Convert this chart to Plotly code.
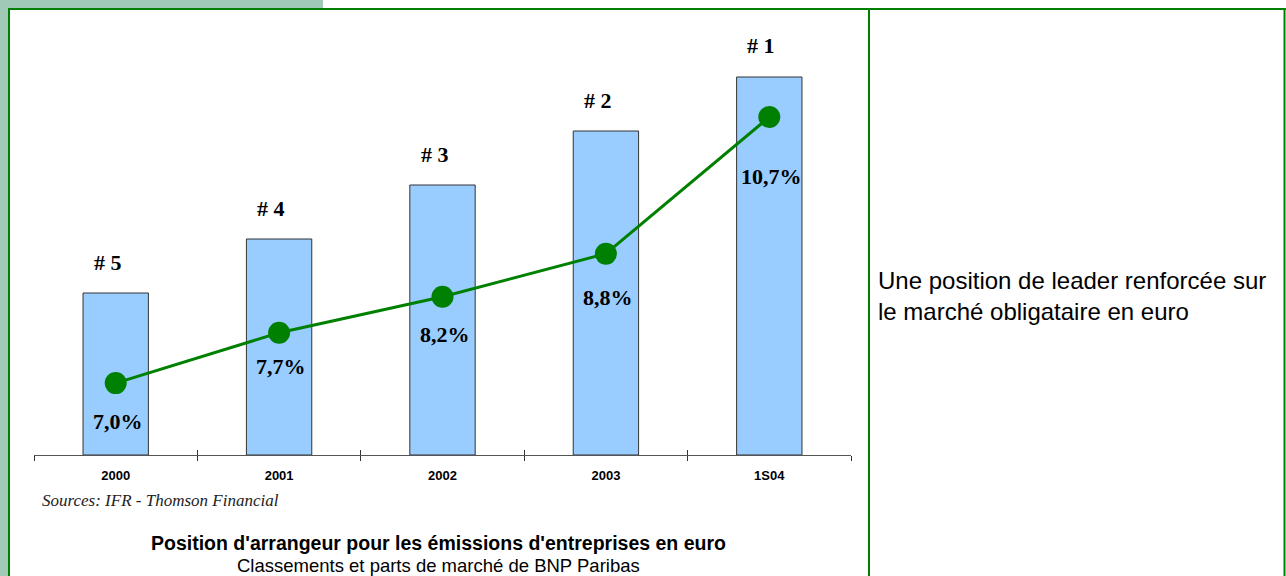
import plotly.graph_objects as go

categories = ["2000", "2001", "2002", "2003", "1S04"]
bar_levels = [3, 4, 5, 6, 7]
ranks = ["# 5", "# 4", "# 3", "# 2", "# 1"]
shares = [7.0, 7.7, 8.2, 8.8, 10.7]
share_labels = ["7,0%", "7,7%", "8,2%", "8,8%", "10,7%"]

W, H = 1286, 576
GREEN = "#008000"

def px(x):
    return x / W

def py(y):
    return 1 - y / H

fig = go.Figure()
fig.add_trace(go.Bar(
    x=categories, y=bar_levels, width=0.40,
    marker=dict(color="#99ccff", line=dict(color="#333333", width=1)),
    hoverinfo="skip", showlegend=False,
))
fig.add_trace(go.Scatter(
    x=categories, y=shares, yaxis="y2", mode="lines+markers",
    line=dict(color=GREEN, width=3),
    marker=dict(color=GREEN, size=22),
    hoverinfo="skip", showlegend=False,
))
# invisible helper trace so the upper half of the crossing ticks is drawn
fig.add_trace(go.Scatter(
    x=categories, y=bar_levels, xaxis="x2", mode="markers",
    marker=dict(opacity=0), hoverinfo="skip", showlegend=False,
))

annotations = []
for i, (v, r) in enumerate(zip(bar_levels, ranks)):
    annotations.append(dict(
        x=i, y=v, xref="x", yref="y", text="<b>%s</b>" % r, showarrow=False,
        yanchor="middle", yshift=31, xshift=-8,
        font=dict(family="Liberation Serif", size=22, color="#000"),
    ))
label_shifts = [-38, -34, -38, -44, -59]
for i, (s, t, sh) in enumerate(zip(shares, share_labels, label_shifts)):
    annotations.append(dict(
        x=i, y=s, xref="x", yref="y2", text="<b>%s</b>" % t, showarrow=False,
        yanchor="middle", yshift=sh, xshift=2,
        font=dict(family="Liberation Serif", size=22, color="#000"),
    ))
annotations += [
    dict(x=px(40), y=py(500), xref="paper", yref="paper", xanchor="left", yanchor="middle",
         text="<i>Sources: IFR - Thomson Financial</i>", showarrow=False,
         font=dict(family="Liberation Serif", size=17, color="#222")),
    dict(x=px(438), y=py(543), xref="paper", yref="paper", xanchor="center", yanchor="middle",
         text="<b>Position d'arrangeur pour les émissions d'entreprises en euro</b>", showarrow=False,
         font=dict(family="Liberation Sans", size=19.5, color="#000")),
    dict(x=px(438), y=py(565), xref="paper", yref="paper", xanchor="center", yanchor="middle",
         text="Classements et parts de marché de BNP Paribas", showarrow=False,
         font=dict(family="Liberation Sans", size=18.5, color="#000")),
    dict(x=px(876), y=py(296), xref="paper", yref="paper", xanchor="left", yanchor="middle",
         align="left",
         text="Une position de leader renforcée sur<br>le marché obligataire en euro", showarrow=False,
         font=dict(family="Liberation Sans", size=24, color="#000")),
]

shapes = [
    dict(type="rect", xref="paper", yref="paper", x0=0, x1=px(323), y0=py(8), y1=1,
         fillcolor="#a0c9b8", line=dict(width=0), layer="below"),
    dict(type="rect", xref="paper", yref="paper", x0=0, x1=px(8), y0=0, y1=1,
         fillcolor="#a0c9b8", line=dict(width=0), layer="below"),
    dict(type="line", xref="paper", yref="paper", x0=px(8), x1=1, y0=py(9), y1=py(9),
         line=dict(color=GREEN, width=2)),
    dict(type="line", xref="paper", yref="paper", x0=px(9), x1=px(9), y0=0, y1=py(8),
         line=dict(color=GREEN, width=2)),
    dict(type="line", xref="paper", yref="paper", x0=px(869), x1=px(869), y0=0, y1=py(8),
         line=dict(color=GREEN, width=2)),
    dict(type="line", xref="paper", yref="paper", x0=px(1284.5), x1=px(1284.5), y0=0, y1=py(8),
         line=dict(color=GREEN, width=2)),
]

top, bottom = 40, 455
plot_h = bottom - top
xdomain = [px(34), px(851)]
xrange_ = [-0.5, len(categories) - 0.5]
fig.update_layout(
    width=W, height=H,
    margin=dict(l=0, r=0, t=0, b=0),
    paper_bgcolor="white", plot_bgcolor="white",
    showlegend=False,
    xaxis=dict(type="category", domain=xdomain, range=xrange_,
               showgrid=False, showline=True,
               linecolor="#555", linewidth=1, ticks="outside", tickson="boundaries", ticklen=5,
               tickcolor="#333", tickwidth=1,
               tickfont=dict(family="Liberation Sans", size=13, color="#000"),
               ticklabelstandoff=8,
               fixedrange=True, categoryorder="array", categoryarray=categories,
               tickvals=categories, ticktext=["<b>%s</b>" % c for c in categories]),
    xaxis2=dict(type="category", domain=xdomain, range=xrange_, overlaying="x",
                anchor="y", side="bottom",
                showgrid=False, showline=False, ticks="inside", tickson="boundaries",
                ticklen=5, tickcolor="#333", tickwidth=1, showticklabels=False,
                fixedrange=True, categoryorder="array", categoryarray=categories),
    yaxis=dict(domain=[py(bottom), py(top)], range=[0, plot_h / 54.0], visible=False,
               fixedrange=True),
    yaxis2=dict(overlaying="y", range=[6.0, 6.0 + plot_h / 71.9], visible=False,
                fixedrange=True),
    annotations=annotations,
    shapes=shapes,
)

fig.write_html("out.html", config={"displayModeBar": False},
               post_script="document.body.style.margin='0';document.body.style.overflow='hidden';")
